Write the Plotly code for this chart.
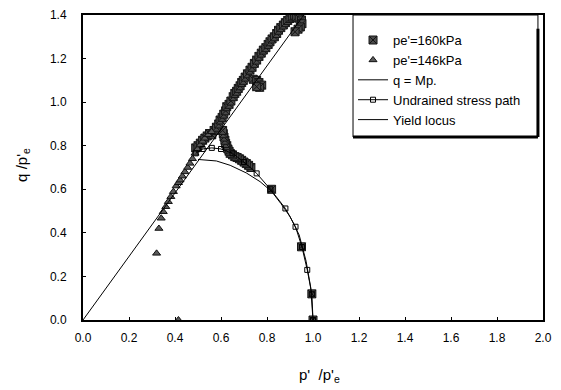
import plotly.graph_objects as go

# --- pe' = 160 kPa test (crossed squares) ---
p160 = [1.0, 0.995, 0.95, 0.82,
        # descending branch towards the critical state line
        0.73, 0.72, 0.71, 0.70, 0.69, 0.68, 0.67, 0.66, 0.65, 0.64, 0.635, 0.63,
        0.625, 0.62, 0.617, 0.613, 0.61, 0.607,
        # points along the line below the turn
        0.49, 0.50, 0.51, 0.52, 0.53, 0.54, 0.55,
        # band climbing along q = Mp
        0.56, 0.57, 0.58, 0.59, 0.596, 0.605, 0.612, 0.62, 0.625, 0.635, 0.643,
        0.653, 0.66, 0.668, 0.675, 0.683, 0.69, 0.697, 0.705, 0.715, 0.726, 0.735,
        0.745, 0.755, 0.765, 0.775, 0.784, 0.795, 0.805, 0.813, 0.822, 0.832, 0.842,
        0.85, 0.86, 0.871, 0.88, 0.89, 0.90, 0.91, 0.92, 0.929, 0.94, 0.95, 0.952,
        0.945, 0.935, 0.922,
        # spur near q = 1.1
        0.74, 0.755, 0.765, 0.777, 0.768, 0.755]
q160 = [0.0, 0.12, 0.336, 0.60,
        0.70, 0.71, 0.718, 0.725, 0.733, 0.74, 0.746, 0.75, 0.758, 0.765, 0.775, 0.785,
        0.80, 0.81, 0.825, 0.84, 0.855, 0.87,
        0.79, 0.80, 0.812, 0.825, 0.835, 0.845, 0.856,
        0.85, 0.87, 0.885, 0.90, 0.918, 0.93, 0.945, 0.96, 0.979, 0.99, 1.005,
        1.025, 1.04, 1.05, 1.063, 1.075, 1.09, 1.10, 1.115, 1.13, 1.147, 1.16,
        1.178, 1.193, 1.21, 1.225, 1.239, 1.25, 1.265, 1.277, 1.29, 1.30, 1.315,
        1.33, 1.342, 1.354, 1.365, 1.375, 1.384, 1.39, 1.395, 1.39, 1.385, 1.377, 1.36,
        1.345, 1.335, 1.323,
        1.105, 1.10, 1.09, 1.078, 1.068, 1.071]

# --- pe' = 146 kPa test (triangles) ---
p146 = [0.415, 0.32, 0.33, 0.34, 0.349, 0.36, 0.371, 0.382, 0.393, 0.405, 0.415,
        0.422, 0.432, 0.443, 0.455, 0.465, 0.476, 0.487, 0.498, 0.509, 0.52, 0.53,
        0.545, 0.559]
q146 = [0.0, 0.306, 0.42, 0.467, 0.497, 0.52, 0.543, 0.566, 0.589, 0.615, 0.63,
        0.642, 0.66, 0.68, 0.70, 0.719, 0.74, 0.765, 0.785, 0.803, 0.82, 0.834,
        0.85, 0.864]

# --- critical state line q = M p ---
p_csl = [0.0, 0.96]
q_csl = [0.0, 1.40]

# --- undrained stress path ---
p_und = [0.49, 0.52, 0.56, 0.60, 0.65, 0.70, 0.755, 0.815, 0.88, 0.924, 0.952, 0.975, 0.995, 1.0]
q_und = [0.765, 0.785, 0.79, 0.785, 0.765, 0.725, 0.673, 0.60, 0.512, 0.428, 0.335, 0.23, 0.118, 0.0]

# --- yield locus ---
p_yl = [0.50, 0.58, 0.64, 0.71, 0.77, 0.82, 0.86, 0.90, 0.94, 0.97, 0.99, 1.0]
q_yl = [0.737, 0.73, 0.71, 0.675, 0.635, 0.59, 0.535, 0.475, 0.39, 0.27, 0.15, 0.0]

x_ticks = [0.0, 0.2, 0.4, 0.6, 0.8, 1.0, 1.2, 1.4, 1.6, 1.8, 2.0]
y_ticks = [0.0, 0.2, 0.4, 0.6, 0.8, 1.0, 1.2, 1.4]

FONT = "Liberation Sans, Arial, sans-serif"

fig = go.Figure()

fig.add_trace(go.Scatter(
    x=p160, y=q160, mode="markers", name="pe'=160kPa",
    marker=dict(symbol="square-x", size=8, color="#4a4a4a",
                line=dict(color="#151515", width=1)),
))
fig.add_trace(go.Scatter(
    x=p146, y=q146, mode="markers", name="pe'=146kPa",
    marker=dict(symbol="triangle-up", size=7, color="#5a5a5a",
                line=dict(color="#111111", width=1)),
))
fig.add_trace(go.Scatter(
    x=p_csl, y=q_csl, mode="lines", name="q = Mp.",
    line=dict(color="black", width=1),
))
fig.add_trace(go.Scatter(
    x=p_und, y=q_und, mode="lines+markers", name="Undrained stress path",
    line=dict(color="black", width=1),
    marker=dict(symbol="square-open", size=5, color="black", line=dict(width=1)),
))
fig.add_trace(go.Scatter(
    x=p_yl, y=q_yl, mode="lines", name="Yield locus",
    line=dict(color="black", width=1),
))

axis_common = dict(
    showline=True, linecolor="black", linewidth=2, mirror=True,
    showgrid=False, zeroline=False, automargin=False,
    ticks="inside", ticklen=3, tickcolor="black", tickwidth=1,
    tickfont=dict(family=FONT, size=12, color="black"),
)

fig.update_xaxes(
    range=[0, 2.0], tickvals=x_ticks, ticktext=[f"{v:.1f}" for v in x_ticks],
    ticklabelstandoff=6, **axis_common,
)
fig.update_yaxes(
    range=[0, 1.4], tickvals=y_ticks, ticktext=[f"{v:.1f}" for v in y_ticks],
    ticklabelstandoff=12, **axis_common,
)

# axis titles placed just as in the figure layout
title_font = dict(family=FONT, size=15, color="black")
fig.add_annotation(text="p'  /p'<sub>e</sub>", xref="paper", yref="paper",
                   x=0.515, y=-0.183, xanchor="center", yanchor="middle",
                   showarrow=False, font=title_font)
fig.add_annotation(text="q /p'<sub>e</sub>", xref="paper", yref="paper",
                   x=-0.133, y=0.508, xanchor="center", yanchor="middle",
                   textangle=-90, showarrow=False, font=title_font)

# legend frame with a heavy right/bottom edge
lx0, lx1, ly0, ly1 = 0.587, 0.989, 0.60, 1.0
fig.add_shape(type="rect", xref="paper", yref="paper", x0=lx0, x1=lx1, y0=ly0, y1=ly1,
              line=dict(color="black", width=1), fillcolor="white", layer="below")
fig.add_shape(type="line", xref="paper", yref="paper", x0=lx1, x1=lx1, y0=ly0, y1=0.955,
              line=dict(color="black", width=3))
fig.add_shape(type="line", xref="paper", yref="paper", x0=lx0, x1=lx1, y0=ly0, y1=ly0,
              line=dict(color="black", width=3))

fig.update_layout(
    width=561, height=390,
    margin=dict(l=83, r=18, t=15, b=70),
    paper_bgcolor="white", plot_bgcolor="white",
    font=dict(family=FONT, size=12, color="black"),
    showlegend=True,
    legend=dict(x=lx0, y=0.967, xanchor="left", yanchor="top",
                bgcolor="rgba(0,0,0,0)", borderwidth=0,
                font=dict(family=FONT, size=13, color="black"),
                tracegroupgap=0, itemwidth=30),
)

fig.write_html("out.html")
